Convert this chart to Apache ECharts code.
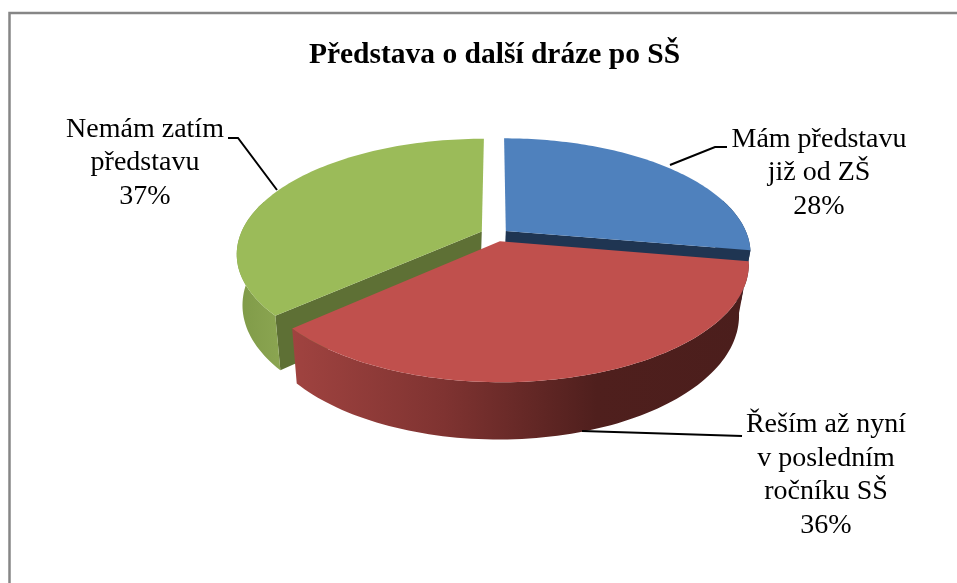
<!DOCTYPE html>
<html>
<head>
<meta charset="utf-8">
<title>Představa o další dráze po SŠ</title>
<script src="https://cdn.jsdelivr.net/npm/echarts@6/dist/echarts.min.js"></script>
<style>
  html, body { margin: 0; padding: 0; background: #fff; }
  #chart { width: 957px; height: 583px; }
</style>
</head>
<body>
<div id="chart"></div>
<script>
const chartTitle = 'Představa o další dráze po SŠ';
const sliceNames = ['Mám představu\njiž od ZŠ', 'Řeším až nyní\nv posledním\nročníku SŠ', 'Nemám zatím\npředstavu'];
const sliceValues = [28, 36, 37];

const topColors = ['#4f81bd', '#c0504d', '#9bbb59'];
const faceColors = ['#1f3552', '#5a2220', '#5e7035'];
const wallStops = [
  ['#1f3552', '#1f3552'],
  ['#a04340', '#7f3331', '#4f1f1d', '#4b1e1c'],
  ['#7f9a48', '#8ba551']
];
// slice shift inside the pie plane (exploded look)
const explode = [[0.045, -0.045], [0.02, 0.046], [-0.055, -0.04]];
const drawOrder = [1, 3, 2];
// which cut face of a slice can be seen from the camera
const visibleFace = ['end', null, 'start'];

// perspective of the pie plane
const cx = 495, cy = 236, scaleU = 242, scaleV = 112, scaleZ = 52, skewZ = -2, tiltK = 0.19, tiltM = 0.03;

function project(u, v, z) {
  const w = 1 - tiltK * v + tiltM * z;
  return [cx + (scaleU * u + skewZ * z) / w, cy + (scaleV * v + scaleZ * z) / w];
}

const total = sliceValues.reduce((a, b) => a + b, 0);

function renderSlice(params, api) {
  const i = api.value(1);
  let before = 0;
  for (let k = 0; k < i; k++) before += sliceValues[k];
  const a0 = before / total * Math.PI * 2;
  const a1 = (before + api.value(0)) / total * Math.PI * 2;
  const [du, dv] = explode[i];

  const edge = (t, z) => project(du + Math.sin(t), dv - Math.cos(t), z);
  const arcTop = [], wallTop = [], wallBottom = [];
  const steps = 90;
  for (let s = 0; s <= steps; s++) {
    const t = a0 + (a1 - a0) * s / steps;
    arcTop.push(edge(t, 0));
    // the back of the rim is hidden behind the top surface
    if (Math.cos(t) < 0.3) {
      wallTop.push(edge(t, 0));
      wallBottom.push(edge(t, 1));
    }
  }
  const centerTop = project(du, dv, 0);
  const centerBottom = project(du, dv, 1);
  const z2 = drawOrder[i];

  const xs = wallTop.concat(wallBottom).map(p => p[0]);
  const left = Math.min(...xs), right = Math.max(...xs);
  const stops = wallStops[i].map((color, n, list) => ({ offset: n / (list.length - 1), color }));
  const wallFill = new echarts.graphic.LinearGradient(left, 0, right, 0, stops, true);

  const poly = (points, fill) => ({
    type: 'polygon',
    z2,
    shape: { points },
    style: { fill }
  });

  const children = [];
  if (visibleFace[i]) {
    const a = visibleFace[i] === 'start' ? a0 : a1;
    children.push(poly([centerTop, edge(a, 0), edge(a, 1), centerBottom], faceColors[i]));
  }
  children.push(poly(wallTop.concat(wallBottom.slice().reverse()), wallFill));
  children.push(poly([centerTop].concat(arcTop), topColors[i]));

  return { type: 'group', children };
}

const labelFont = { fontFamily: 'Liberation Serif', fontSize: 28, lineHeight: 33.5, fill: '#000', textAlign: 'center', textVerticalAlign: 'top' };
const labelPos = [[819, 122.5], [826, 408], [145, 112.5]];
const leaderLines = [
  [[727, 147], [715, 147], [670, 165]],
  [[742, 436], [582, 431]],
  [[228, 138], [238, 138], [277, 190]]
];

const chart = echarts.init(document.getElementById('chart'), null, { renderer: 'canvas' });
chart.setOption({
  animation: false,
  backgroundColor: '#fff',
  title: {
    text: chartTitle,
    left: 489.5,
    top: 35,
    textAlign: 'center',
    textStyle: { fontFamily: 'Liberation Serif', fontSize: 29.5, fontWeight: 'bold', color: '#000' }
  },
  tooltip: { show: false },
  series: [{
    type: 'custom',
    coordinateSystem: 'none',
    silent: true,
    renderItem: renderSlice,
    data: sliceValues.map((v, i) => [v, i])
  }],
  graphic: [
    { type: 'polyline', shape: { points: [[9.5, 583], [9.5, 13], [957, 13]] }, style: { stroke: '#868686', lineWidth: 2.5, fill: null } },
    ...leaderLines.map(points => ({
      type: 'polyline',
      z: 5,
      shape: { points },
      style: { stroke: '#000', lineWidth: 2, fill: null }
    })),
    ...sliceNames.map((name, i) => ({
      type: 'text',
      z: 5,
      x: labelPos[i][0],
      y: labelPos[i][1],
      style: { ...labelFont, text: name + '\n' + sliceValues[i] + '%' }
    }))
  ]
});
</script>
</body>
</html>
